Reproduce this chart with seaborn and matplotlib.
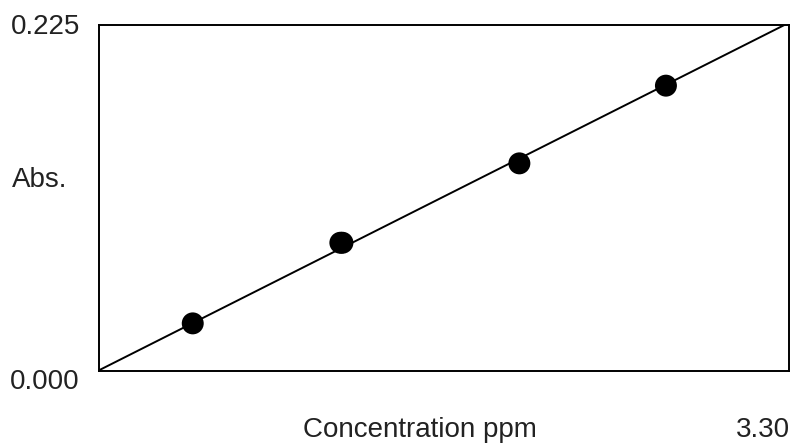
import numpy as np
import pandas as pd
import matplotlib
matplotlib.use("Agg")
import matplotlib.pyplot as plt
import seaborn as sns

# Calibration standards: concentration (ppm) and measured absorbance
concentration = [0.45, 1.155, 1.165, 2.01, 2.71]
absorbance = [0.0307, 0.0832, 0.0832, 0.1349, 0.1855]

x_max = 3.30
y_max = 0.225
y_tick_labels = ["0.000", "0.225"]
x_end_label = "3.30"
x_title = "Concentration ppm"
y_title = "Abs."

sns.set_theme(style="white")
plt.rcParams["font.family"] = ["Liberation Sans", "DejaVu Sans"]

df = pd.DataFrame({"conc": concentration, "abs": absorbance})

fig = plt.figure(figsize=(7.92, 4.44), dpi=100)
ax = fig.add_axes([0.1244, 0.1655, 0.9968 - 0.1244, 0.9437 - 0.1655])

# Least-squares line through the origin
xa = np.array(concentration)
ya = np.array(absorbance)
slope = np.sum(xa * ya) / np.sum(xa * xa)
line_x = np.array([0.0, x_max])
sns.lineplot(x=line_x, y=slope * line_x, ax=ax, color="black", linewidth=1.4)

sns.scatterplot(data=df, x="conc", y="abs", ax=ax, s=250, color="black",
                edgecolor="none", zorder=3)

ax.set_xlim(0, x_max)
ax.set_ylim(0, y_max)
ax.set_xticks([])
ax.set_yticks([])
ax.set_xlabel("")
ax.set_ylabel("")
for sp in ax.spines.values():
    sp.set_visible(True)
    sp.set_color("black")
    sp.set_linewidth(1.4)

fs = 20
tc = "#222222"
fig.text(0.101, 0.9234, y_tick_labels[1], ha="right", va="baseline", fontsize=fs, color=tc)
fig.text(0.101, 0.1239, y_tick_labels[0], ha="right", va="baseline", fontsize=fs, color=tc)
fig.text(0.0152, 0.5788, y_title, ha="left", va="baseline", fontsize=fs, color=tc)
fig.text(0.3826, 0.01577, x_title, ha="left", va="baseline", fontsize=fs, color=tc)
fig.text(0.9975, 0.01577, x_end_label, ha="right", va="baseline", fontsize=fs, color=tc)

fig.savefig("out.png", dpi=100)
